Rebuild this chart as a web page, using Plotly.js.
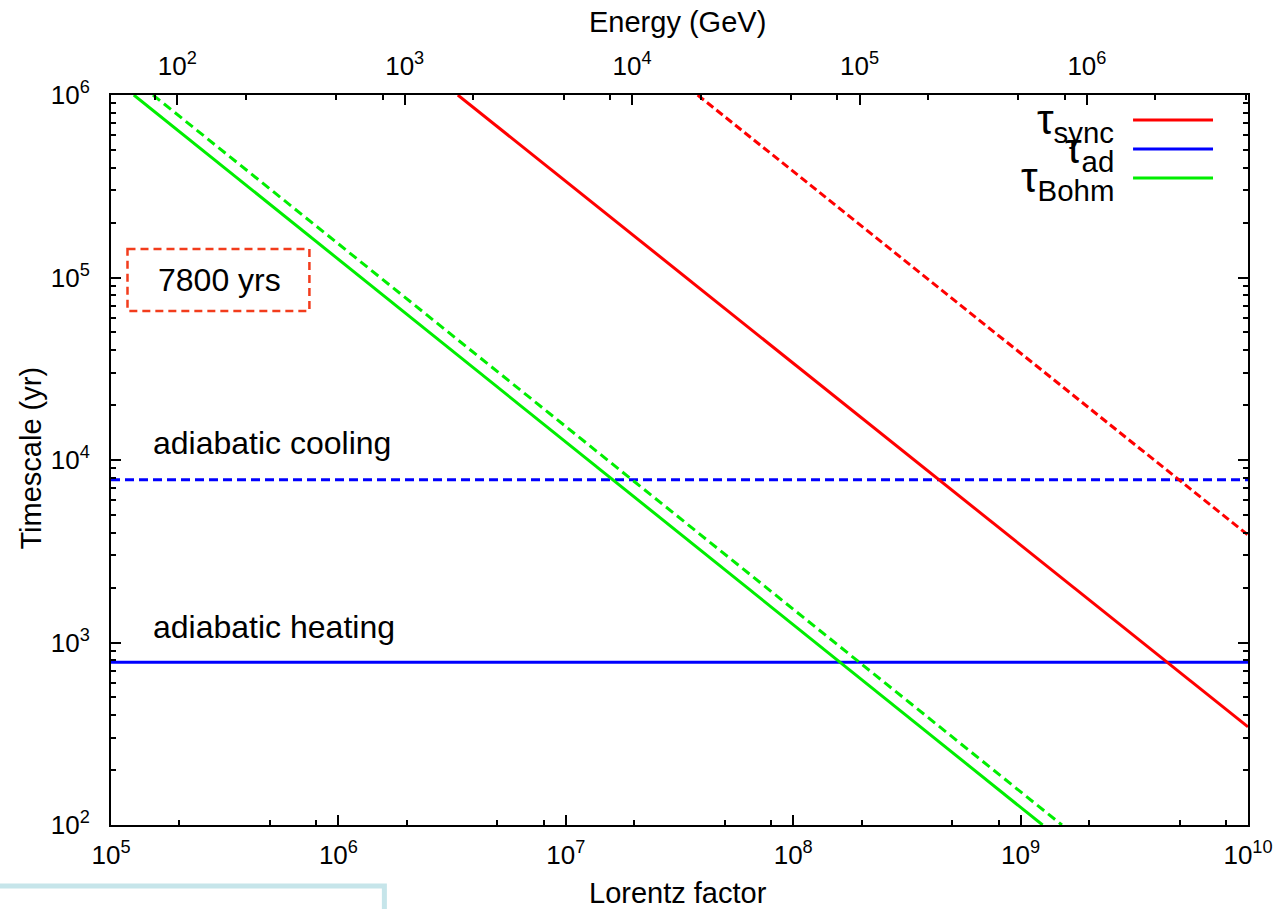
<!DOCTYPE html>
<html><head><meta charset="utf-8">
<script src="https://cdn.plot.ly/plotly-3.0.1.min.js"></script>
<style>html,body{margin:0;padding:0;background:#fff}#chart{width:1275px;height:909px}</style>
</head><body><div id="chart"></div>
<script>
// ---- data ----
const gammaRange = [1e5, 1e10];           // Lorentz factor span
const tauAdHeating = [780, 780];           // yr (solid blue)
const tauAdCooling = [7800, 7800];         // yr (dashed blue)
const syncSolidGamma = [3.35e6, 1e10];
const syncSolidTau = [1e6, 345];
const syncDashGamma = [3.8e7, 1e10];
const syncDashTau = [1e6, 3880];
const bohmSolidGamma = [1.26e5, 1.25e9];
const bohmSolidTau = [1e6, 100];
const bohmDashGamma = [1.53e5, 1.52e9];
const bohmDashTau = [1e6, 100];
const electronMassGeV = 0.511e-3;
const xTickVals = [1e5, 1e6, 1e7, 1e8, 1e9, 1e10];
const xTickText = ['10<sup>5</sup>','10<sup>6</sup>','10<sup>7</sup>','10<sup>8</sup>','10<sup>9</sup>','10<sup>10</sup>'];
const yTickVals = [1e2, 1e3, 1e4, 1e5, 1e6];
const yTickText = ['10<sup>2</sup>','10<sup>3</sup>','10<sup>4</sup>','10<sup>5</sup>','10<sup>6</sup>'];
const eTickVals = [1e2, 1e3, 1e4, 1e5, 1e6];
const eTickText = ['10<sup>2</sup>','10<sup>3</sup>','10<sup>4</sup>','10<sup>5</sup>','10<sup>6</sup>'];
const legendNames = ['τ<sub>sync</sub>', 'τ<sub>ad</sub>', 'τ<sub>Bohm</sub>'];

// ---- build ----
const RED = '#ff0000', BLUE = '#0000ff', GREEN = '#00ee00';
function minors(lo, hi, ks) {
  const out = [];
  for (let e = lo; e <= hi; e++) ks.forEach(k => out.push(k * Math.pow(10, e)));
  return out;
}
const energyRange = gammaRange.map(g => g * electronMassGeV);

const traces = [
  {x: gammaRange, y: tauAdCooling, mode: 'lines', line: {color: BLUE, width: 3, dash: '9px,5px'}},
  {x: gammaRange, y: tauAdHeating, mode: 'lines', line: {color: BLUE, width: 3}},
  {x: syncDashGamma, y: syncDashTau, mode: 'lines', line: {color: RED, width: 3, dash: '8px,4px'}},
  {x: syncSolidGamma, y: syncSolidTau, mode: 'lines', line: {color: RED, width: 3}},
  {x: bohmDashGamma, y: bohmDashTau, mode: 'lines', line: {color: GREEN, width: 3, dash: '9px,5px'}},
  {x: bohmSolidGamma, y: bohmSolidTau, mode: 'lines', line: {color: GREEN, width: 3}},
  {x: energyRange, y: [100, 100], xaxis: 'x2', mode: 'lines', opacity: 0, hoverinfo: 'skip', line: {width: 0}}
];

const W = 1275, H = 909, L = 110.5, R = 1248, T = 95, B = 825;
const px = x => (x - L) / (R - L);
const py = y => (B - y) / (B - T);
const FAM = 'Liberation Sans, Arial, sans-serif';
const tickFont = {family: FAM, size: 26, color: '#000'};
const txtFont = {family: FAM, size: 32, color: '#000'};
const titleFont = {family: FAM, size: 29, color: '#000'};

function ann(text, x, y, font, extra) {
  return Object.assign({text, x: px(x), y: py(y), xref: 'paper', yref: 'paper', showarrow: false,
    xanchor: 'center', yanchor: 'middle', font}, extra || {});
}
const annotations = [
  ann('Energy (GeV)', 677, 22, titleFont),
  ann('Lorentz factor', 678, 893, titleFont),
  ann('Timescale (yr)', 30, 458, titleFont, {textangle: -90}),
  ann('adiabatic cooling', 151, 443, txtFont, {xanchor: 'left'}),
  ann('adiabatic heating', 151, 627, txtFont, {xanchor: 'left'}),
  ann('7800 yrs', 219, 280, txtFont)
];
const legendY = [120, 149, 178];
const legendColors = [RED, BLUE, GREEN];
const shapes = [
  {type: 'rect', xref: 'paper', yref: 'paper', x0: px(127), x1: px(309), y0: py(249), y1: py(311),
   line: {color: '#f23c1c', width: 2.5, dash: '8px,5px'}},
  {type: 'rect', xref: 'paper', yref: 'paper', x0: px(-5), x1: px(384), y0: py(886), y1: py(930),
   line: {color: '#c6e5ea', width: 5}}
];
legendNames.forEach((n, i) => {
  annotations.push(ann(n, 1116, legendY[i] + 3, {family: FAM, size: 42, color: '#000'}, {xanchor: 'right'}));
  shapes.push({type: 'line', xref: 'paper', yref: 'paper', x0: px(1133), x1: px(1213), y0: py(legendY[i]), y1: py(legendY[i]),
    line: {color: legendColors[i], width: 3}});
});

const layout = {
  width: W, height: H, showlegend: false,
  paper_bgcolor: '#fff', plot_bgcolor: '#fff',
  margin: {l: L, r: W - R, t: T, b: H - B, pad: 0},
  xaxis: {type: 'log', range: [5, 10], showgrid: false, zeroline: false, showline: true, linecolor: '#000', linewidth: 2,
    ticks: 'inside', ticklen: 10, tickwidth: 2, tickcolor: '#000', tickvals: xTickVals, ticktext: xTickText,
    tickfont: tickFont, ticklabelstandoff: 6,
    minor: {tickvals: minors(5, 9, [2, 5, 8]), ticks: 'inside', ticklen: 5, tickwidth: 2, tickcolor: '#000', showgrid: false}},
  xaxis2: {type: 'log', overlaying: 'x', side: 'top', range: energyRange.map(Math.log10), showgrid: false, zeroline: false,
    showline: true, linecolor: '#000', linewidth: 2,
    ticks: 'inside', ticklen: 10, tickwidth: 2, tickcolor: '#000', tickvals: eTickVals, ticktext: eTickText,
    tickfont: tickFont, ticklabelstandoff: 8,
    minor: {tickvals: minors(1, 6, [2, 5, 8]), ticks: 'inside', ticklen: 5, tickwidth: 2, tickcolor: '#000', showgrid: false}},
  yaxis: {type: 'log', range: [2, 6], showgrid: false, zeroline: false, showline: true, mirror: 'ticks', linecolor: '#000', linewidth: 2,
    ticks: 'inside', ticklen: 10, tickwidth: 2, tickcolor: '#000', tickvals: yTickVals, ticktext: yTickText,
    tickfont: tickFont, ticklabelstandoff: 14,
    minor: {tickvals: minors(2, 5, [2, 3, 4, 5, 6, 7, 8, 9]), ticks: 'inside', ticklen: 5, tickwidth: 2, tickcolor: '#000', showgrid: false}},
  annotations, shapes
};
Plotly.newPlot('chart', traces, layout, {displayModeBar: false, staticPlot: true});
</script></body></html>
